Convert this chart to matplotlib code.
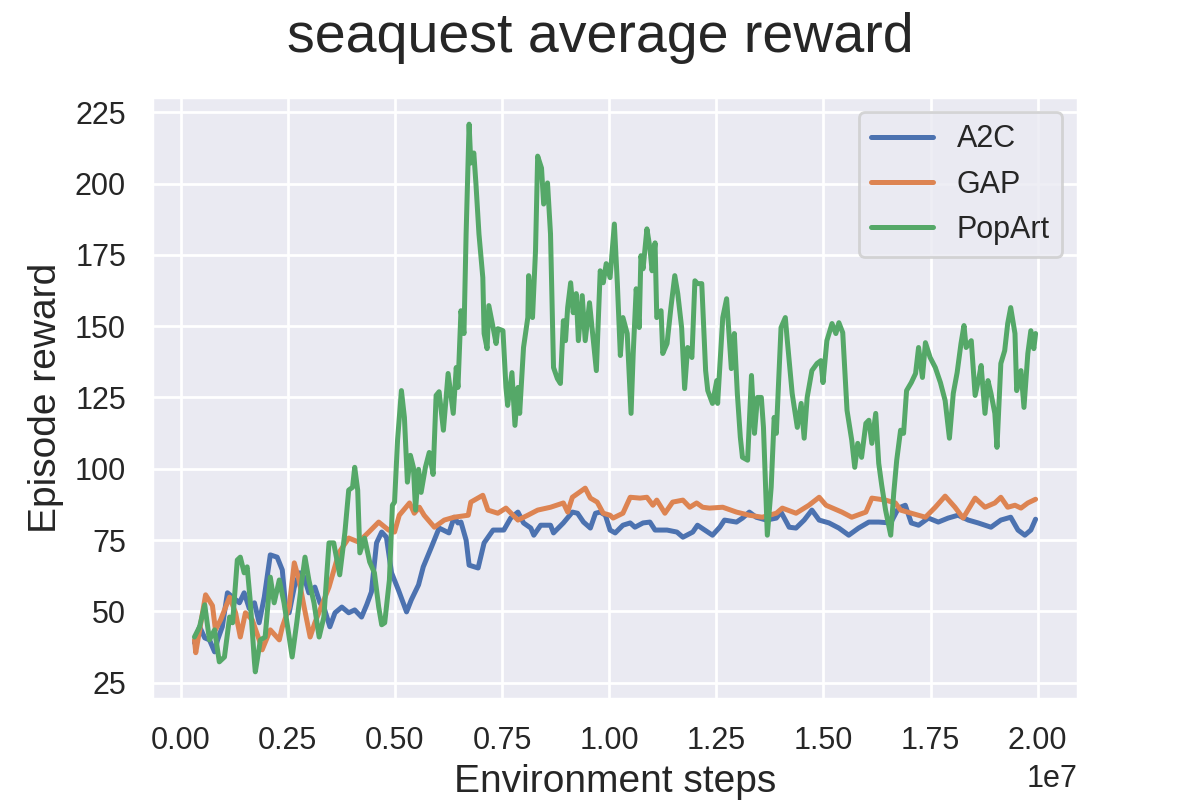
import matplotlib
matplotlib.use('Agg')
import matplotlib.pyplot as plt
import seaborn as sns

# шаги в миллионах
a2c_steps = [0.32, 0.44, 0.56, 0.67, 0.79, 0.86, 0.97, 1.09, 1.21, 1.37, 1.48, 1.60, 1.72, 1.83, 1.95,
             2.09, 2.25, 2.37, 2.44, 2.53, 2.65, 2.78, 2.88, 2.99, 3.13, 3.25, 3.36, 3.48, 3.60, 3.76,
             3.92, 4.06, 4.22, 4.34, 4.45, 4.57, 4.69, 4.80, 4.92, 5.08, 5.27, 5.38, 5.55, 5.66, 5.85,
             6.03, 6.26, 6.38, 6.47, 6.54, 6.66, 6.73, 6.94, 7.08, 7.29, 7.54, 7.70, 7.87, 8.00, 8.17,
             8.24, 8.40, 8.63, 8.70, 8.93, 9.14, 9.26, 9.40, 9.56, 9.68, 9.79, 9.91, 10.02, 10.14, 10.32,
             10.49, 10.60, 10.79, 10.95, 11.07, 11.35, 11.58, 11.72, 11.95, 12.06, 12.23, 12.41, 12.58,
             12.69, 12.97, 13.11, 13.27, 13.43, 13.67, 13.90, 14.01, 14.20, 14.36, 14.55, 14.73, 14.90,
             15.13, 15.36, 15.59, 15.82, 16.06, 16.29, 16.57, 16.75, 16.91, 17.05, 17.22, 17.45, 17.68,
             17.91, 18.14, 18.38, 18.61, 18.91, 19.14, 19.37, 19.54, 19.70, 19.84, 19.95]
a2c_reward = [39, 44.6, 40.7, 40, 35.8, 40, 44.6, 56.5, 55, 53, 56.5, 51, 53, 46, 55,
              69.8, 69, 64.5, 53, 49.5, 58.5, 63.5, 62, 56.5, 58.5, 53, 50.5, 44.6, 49.5, 51.5,
              49.5, 50.5, 48, 52.3, 56.8, 74, 77.8, 76, 63.5, 57.5, 49.8, 54, 59.3, 65.6, 72.5,
              79.2, 77.5, 83, 81, 81.3, 75, 66.2, 65.2, 74, 78.5, 78.5, 82.7, 84.8, 81, 79.2,
              76.7, 80.2, 80.2, 77.5, 81, 84.8, 84.4, 81.3, 79.2, 84.4, 84.8, 83.7, 78.5, 77.5, 80.2,
              81, 79.5, 81, 81.3, 78.5, 78.5, 77.8, 76, 77.8, 80.2, 78.5, 76.7, 79.5,
              82, 81.3, 82.7, 84.8, 83, 82, 82.7, 84.8, 79.5, 79.2, 82, 85.5, 82,
              81, 79.2, 76.7, 79.2, 81.3, 81.3, 81, 86.2, 87.2, 81, 80.2, 82.7, 81.3,
              82.7, 83.7, 82, 81, 79.5, 82, 83, 78.5, 76.7, 78.5, 82.3]

gap_steps = [0.32, 0.35, 0.58, 0.74, 0.81, 0.93, 1.14, 1.28, 1.39, 1.51, 1.67, 1.83, 1.90, 2.09, 2.30,
             2.37, 2.53, 2.65, 2.76, 2.88, 3.02, 3.13, 3.25, 3.46, 3.69, 3.92, 4.15, 4.39, 4.62, 4.85,
             4.99, 5.10, 5.34, 5.45, 5.57, 5.68, 5.92, 6.15, 6.38, 6.71, 6.77, 7.05, 7.17, 7.40, 7.59,
             7.87, 8.10, 8.33, 8.63, 8.93, 9.03, 9.14, 9.44, 9.56, 9.72, 9.86, 10.02, 10.09, 10.32,
             10.49, 10.72, 10.88, 11.02, 11.11, 11.30, 11.48, 11.72, 11.88, 12.04, 12.18, 12.34, 12.65,
             12.97, 13.27, 13.57, 13.90, 14.04, 14.36, 14.66, 14.90, 15.06, 15.43, 15.66, 15.99, 16.13,
             16.45, 16.68, 16.80, 17.05, 17.38, 17.61, 17.84, 18.07, 18.26, 18.54, 18.77, 19.00, 19.14,
             19.30, 19.47, 19.61, 19.77, 19.95]
gap_reward = [40, 35.5, 55.8, 52, 43.5, 47, 55, 49.5, 41, 49.5, 47, 40, 36.5, 43.5, 40,
              44.5, 51.5, 67, 61, 51.5, 41, 46, 50.5, 58.5, 70.5, 75.7, 74.3, 77.8, 81.3, 78.5,
              77.8, 83.7, 88, 84.4, 86.5, 83.7, 79.5, 82, 83, 83.7, 88.3, 90.7, 85.5, 84.4, 86.2,
              82, 83.7, 85.5, 86.5, 88, 84.8, 90, 93.2, 89.7, 88.3, 84.4, 83.7, 82.7, 84.4,
              90, 89.7, 90, 87.2, 89, 84.4, 88.3, 89, 86.5, 88, 86.5, 86.2, 86.5,
              84.8, 83.7, 83, 84.4, 86.2, 84.4, 87.2, 90, 87.2, 84.8, 83, 84.8, 89.7,
              89, 88, 85.5, 84.4, 83, 86.5, 90.4, 86.5, 82.7, 89.7, 86.5, 88, 90,
              86.5, 87.2, 86.2, 88, 89.3]

popart_steps = [0.32, 0.44, 0.56, 0.67, 0.79, 0.90, 1.02, 1.14, 1.21, 1.32, 1.39, 1.48, 1.55, 1.62,
                1.72, 1.74, 1.86, 1.97, 2.09, 2.18, 2.30, 2.41, 2.53, 2.60, 2.71, 2.83, 2.90, 2.99,
                3.11, 3.23, 3.34, 3.46, 3.57, 3.71, 3.83, 3.92, 4.01, 4.06, 4.13, 4.18, 4.29, 4.41,
                4.52, 4.62, 4.69, 4.76, 4.87, 4.94, 4.99, 5.06, 5.15, 5.22, 5.29, 5.36, 5.43, 5.48,
                5.55, 5.61, 5.71, 5.80, 5.89, 5.96, 6.03, 6.13, 6.24, 6.36, 6.43, 6.47, 6.54, 6.61,
                6.66, 6.73, 6.77, 6.84, 6.89, 6.96, 7.05, 7.08, 7.15, 7.19, 7.29, 7.36, 7.40, 7.52,
                7.59, 7.63, 7.73, 7.80, 7.87, 7.91, 8.00, 8.10, 8.12, 8.21, 8.28, 8.33, 8.42, 8.47,
                8.56, 8.63, 8.70, 8.79, 8.86, 8.93, 8.98, 9.03, 9.10, 9.16, 9.23, 9.28, 9.37, 9.44,
                9.54, 9.63, 9.70, 9.79, 9.86, 9.93, 10.02, 10.12, 10.19, 10.26, 10.32, 10.42, 10.51,
                10.56, 10.63, 10.70, 10.74, 10.79, 10.88, 10.95, 11.00, 11.07, 11.11, 11.21, 11.25,
                11.35, 11.44, 11.53, 11.60, 11.69, 11.76, 11.83, 11.93, 12.00, 12.06, 12.16, 12.25,
                12.30, 12.41, 12.51, 12.53, 12.65, 12.74, 12.85, 12.92, 12.99, 13.06, 13.11, 13.23,
                13.32, 13.39, 13.46, 13.55, 13.60, 13.69, 13.78, 13.85, 13.90, 14.01, 14.11, 14.15,
                14.27, 14.39, 14.48, 14.55, 14.62, 14.73, 14.85, 14.94, 14.99, 15.08, 15.20, 15.29,
                15.36, 15.45, 15.55, 15.66, 15.73, 15.80, 15.89, 15.99, 16.06, 16.13, 16.22, 16.29,
                16.36, 16.45, 16.57, 16.64, 16.71, 16.80, 16.87, 16.94, 17.05, 17.15, 17.22, 17.31,
                17.38, 17.49, 17.61, 17.73, 17.84, 17.94, 18.03, 18.12, 18.21, 18.28, 18.33, 18.45,
                18.54, 18.63, 18.68, 18.77, 18.84, 18.91, 19.00, 19.05, 19.14, 19.23, 19.30, 19.37,
                19.47, 19.51, 19.61, 19.68, 19.77, 19.84, 19.91, 19.95]
popart_reward = [41, 44.6, 52.3, 40, 43.5, 32.3, 34, 48, 46, 68, 69, 63.5, 65.6, 54,
                 32.3, 28.8, 40, 41, 62, 53, 61, 53, 41, 34, 46.3, 61, 69, 61,
                 53, 41, 48, 74, 74, 62.8, 77.5, 92.5, 93.5, 100.5, 92.5, 70.5, 75.7, 67.3,
                 63.5, 51.5, 45.3, 46, 61, 87.2, 88.3, 110, 127.4, 118, 95.3, 104.7, 100.5, 85.5,
                 99.8, 91.7, 100.5, 105.7, 98, 125.7, 127, 113.5, 133.4, 119.4, 135.5, 128.5, 155.4, 147.4,
                 182.3, 220.8, 207.2, 210.7, 199.8, 182.3, 167, 147.4, 142.1, 157.2, 149.5, 143.9, 149.1, 148.4,
                 128.5, 122.2, 133.7, 115.2, 128.5, 119.4, 142.5, 153, 167.7, 153, 176.4, 209.6, 205.4, 192.8,
                 200.2, 182.3, 135.5, 131.6, 129.9, 151.9, 144.9, 156.5, 165.2, 154.7, 161.4, 144.9, 160.7, 144.9,
                 158.2, 144.9, 134.4, 169.4, 165.2, 171.9, 167, 185.8, 164.9, 139.7, 153, 147.4, 119.4,
                 140.4, 163.1, 149.5, 174.7, 170.1, 184.1, 177.4, 169.4, 179.2, 153, 155.4, 140.4,
                 143.9, 156.5, 167.7, 161.4, 149.5, 128.1, 142.5, 139, 165.9, 164.9, 164.9, 134.4,
                 127.4, 122.9, 130.9, 122.9, 153, 159.6, 135.1, 147.4, 126.4, 111, 104, 103,
                 132.7, 112.4, 125, 125, 114.5, 76.7, 93.5, 118, 112.4, 149.5, 153, 146,
                 126.4, 114.5, 122.9, 110.7, 125, 134.4, 136.9, 137.9, 130.2, 144.9, 150.9, 147.4,
                 151.2, 147.7, 120.5, 110, 100.5, 108.9, 104, 115.9, 117, 108.9, 119.4, 101.9,
                 94.2, 85.5, 76.7, 91.4, 103, 113.5, 112.4, 127.4, 130.2, 133.4, 142.5, 132,
                 144.2, 139, 135.5, 130.2, 123.9, 110.7, 126.4, 133.7, 143.9, 150.2, 142.5, 144.9,
                 125.7, 132, 136.2, 119.4, 130.9, 126.4, 119.4, 107.5, 136.9, 141.4, 150.9, 156.5,
                 147.4, 127.4, 134.4, 121.5, 140.4, 148.4, 142.1, 147.4]

sns.set_theme()
plt.rcParams['font.family'] = ['Liberation Sans', 'DejaVu Sans']

fig = plt.figure(figsize=(6, 4), dpi=200)
ax = fig.add_axes([0.127, 0.126, 0.771, 0.753])
ax.plot([s * 1e6 for s in a2c_steps], a2c_reward, label='A2C', lw=1.8)
ax.plot([s * 1e6 for s in gap_steps], gap_reward, label='GAP', lw=1.8)
ax.plot([s * 1e6 for s in popart_steps], popart_reward, label='PopArt', lw=1.8)
ax.set_yticks([25, 50, 75, 100, 125, 150, 175, 200, 225])
fig.suptitle('seaquest average reward', fontsize=20, x=0.5, y=0.985)
ax.set_xlabel('Environment steps', fontsize=14, labelpad=3)
ax.set_ylabel('Episode reward', fontsize=14)
ax.tick_params(labelsize=11)
ax.legend(loc='upper right', fontsize=11)
fig.savefig('out.png', dpi=200)
